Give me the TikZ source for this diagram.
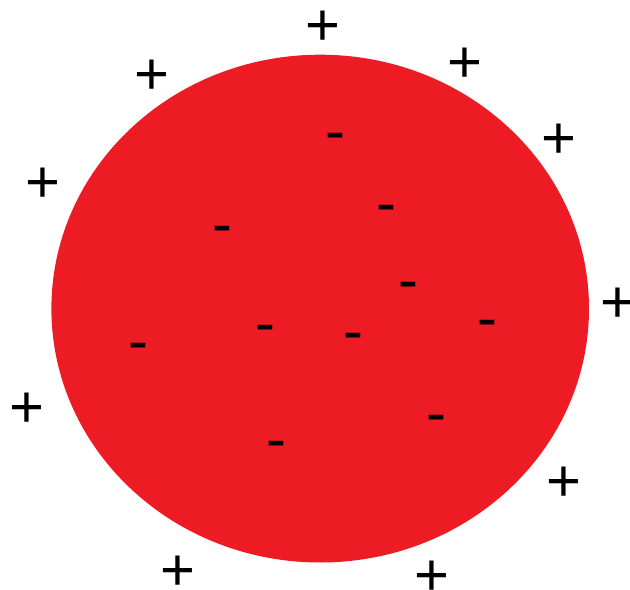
\documentclass[tikz,border=0pt]{standalone}
\usepackage{fontspec}
\setmainfont{Liberation Sans}
\definecolor{paintred}{RGB}{237,28,36}

\begin{document}
\begin{tikzpicture}[
    x=0.03cm, y=-0.03cm,
    poscharge/.style={inner sep=0pt, font=\fontsize{51}{51}\selectfont, yshift=-3pt},
    negcharge/.style={inner sep=0pt, font=\fontsize{51}{51}\selectfont, yshift=-4.9pt},
    ball/.style={fill=paintred, draw=none}
  ]
    \useasboundingbox (0,0) rectangle (630,590);

    % the charged sphere
    \fill[ball] (320.2,308.6) ellipse [x radius=268.8, y radius=253.9];

    % charges outside
    \node[poscharge] (p1) at (323,24.5) {+};
    \node[poscharge] (p2) at (152,73.6) {+};
    \node[poscharge] (p3) at (465,62) {+};
    \node[poscharge] (p4) at (559,138) {+};
    \node[poscharge] (p5) at (43.4,182) {+};
    \node[poscharge] (p6) at (617.6,302) {+};
    \node[poscharge] (p7) at (26.5,407) {+};
    \node[poscharge] (p8) at (564,480.6) {+};
    \node[poscharge] (p9) at (178,570) {+};
    \node[poscharge] (p10) at (432,574.5) {+};

    % charges inside
    \node[negcharge] (m1) at (335.5,136.7) {-};
    \node[negcharge] (m2) at (386,209) {-};
    \node[negcharge] (m3) at (222,230) {-};
    \node[negcharge] (m4) at (408.6,285.8) {-};
    \node[negcharge] (m5) at (265.6,328.4) {-};
    \node[negcharge] (m6) at (353.6,336.7) {-};
    \node[negcharge] (m7) at (487.8,324) {-};
    \node[negcharge] (m8) at (138.6,346.5) {-};
    \node[negcharge] (m9) at (436.8,419) {-};
    \node[negcharge] (m10) at (276.8,444.7) {-};
  \end{tikzpicture}
\end{document}
